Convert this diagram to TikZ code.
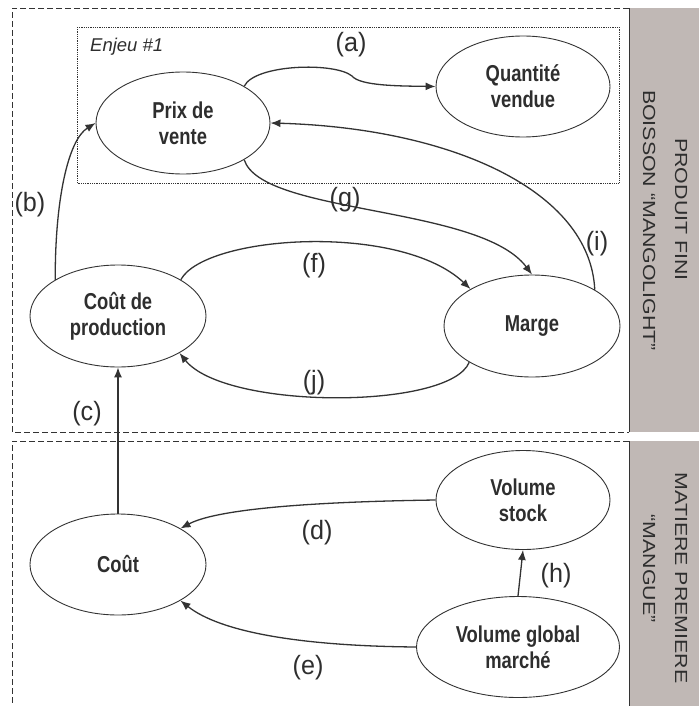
\documentclass[tikz,border=0pt]{standalone}
\usepackage{fontspec}
\setmainfont{Liberation Sans}
\newfontfamily\nodeff[FakeStretch=0.8]{Liberation Sans}
\newfontfamily\labff[FakeStretch=0.95]{Liberation Sans}
\newfontfamily\sideff[FakeStretch=1.22]{Liberation Sans}
\usetikzlibrary{shapes.geometric,arrows.meta}
\definecolor{linec}{HTML}{333333}
\definecolor{textc}{HTML}{2E2E2E}
\definecolor{panelc}{HTML}{C0B8B5}
\tikzset{
  ell/.style={ellipse, draw=linec, line width=0.9pt, inner sep=0pt, align=center,
    text=textc, font=\nodeff\bfseries\fontsize{23}{26}\selectfont},
  conn/.style={draw=linec, line width=1.3pt, -{Latex[length=10pt,width=8pt]}},
  lab/.style={inner sep=0pt, text=textc, font=\labff\fontsize{26.5}{29}\selectfont},
  sidelab/.style={inner sep=0pt, rotate=-90, anchor=base, text=textc,
    font=\sideff\fontsize{17.5}{20}\selectfont},
  zone/.style={draw=linec, line width=0.8pt, dash pattern=on 6pt off 3pt},
  enjeu/.style={draw=linec, line width=0.6pt, dash pattern=on 1pt off 0.8pt},
}
\begin{document}
\begin{tikzpicture}[x=1pt,y=-1pt]
\useasboundingbox (0,0) rectangle (699,706);
% zones
\draw[zone] (629,8) -- (12,8) -- (12,432) -- (629,432);
\draw[zone] (629,441) -- (12,441) -- (12,706);
\fill[panelc] (629,8) rectangle (699,432);
\fill[panelc] (629,441) rectangle (699,706);
\draw[linec, line width=0.9pt] (629,8) -- (629,432);
\draw[linec, line width=0.9pt] (629,441) -- (629,706);
\draw[enjeu] (77,27) rectangle (619,183);
\node[anchor=west, inner sep=0pt, text=textc, font=\itshape\fontsize{18.5}{21}\selectfont] (enj) at (90,47) {Enjeu \#1};
% side labels
\node[sidelab] (s1) at (675,209.5) {PRODUIT FINI};
\node[sidelab] (s2) at (643,220.5) {BOISSON “MANGOLIGHT”};
\node[sidelab] (s3) at (675,578) {MATIERE PREMIERE};
\node[sidelab] (s4) at (643,568.5) {“MANGUE”};
% nodes
\node[ell, minimum width=174pt, minimum height=102pt] (prix) at (183,123) {Prix de\\vente};
\node[ell, minimum width=174pt, minimum height=101pt] (qv) at (523,86.5) {Quantité\\vendue};
\node[ell, minimum width=176pt, minimum height=102pt] (cdp) at (118,316) {Coût de\\production};
\node[ell, minimum width=176pt, minimum height=102pt] (marge) at (532,326) {Marge};
\node[ell, minimum width=176pt, minimum height=101pt] (cout) at (118,564.5) {Coût};
\node[ell, minimum width=174pt, minimum height=99pt] (vs) at (523,500) {Volume\\stock};
\node[ell, minimum width=203pt, minimum height=101pt] (vgm) at (518,647) {Volume global\\marché};
% connectors
\coordinate (ka) at (352,76);
\draw[conn] (prix.31) .. controls (255,64) and (335,62) .. (ka) .. controls (360,86) and (400,86) .. (qv.west);
\draw[conn] (cdp.150) .. controls (55,200) and (68,140) .. (prix.west);
\draw[conn] (cout.north) -- (cdp.south);
\draw[conn] (vs.west) .. controls (300,502) and (215,510) .. (cout.30);
\draw[conn] (vgm.west) .. controls (300,646) and (220,632) .. (cout.-30);
\draw[conn] (vgm.north) -- (vs.south);
\draw[conn] (cdp.30) .. controls (205,235) and (400,222) .. (marge.149);
\draw[conn] (prix.-31) .. controls (262,215) and (480,205) .. (marge.north);
\draw[conn] (marge.30) .. controls (590,190) and (450,128) .. (prix.east);
\draw[conn] (marge.210) .. controls (450,410) and (225,410) .. (cdp.-31);
% labels
\node[lab] (la) at (351,45) {(a)};
\node[lab] (lb) at (30,205) {(b)};
\node[lab] (lc) at (87,414) {(c)};
\node[lab] (ld) at (317,533) {(d)};
\node[lab] (le) at (308,668) {(e)};
\node[lab] (lf) at (314,266) {(f)};
\node[lab] (lg) at (345,200) {(g)};
\node[lab] (lh) at (556,576) {(h)};
\node[lab] (li) at (597,244) {(i)};
\node[lab] (lj) at (314,383) {(j)};
\end{tikzpicture}
\end{document}
